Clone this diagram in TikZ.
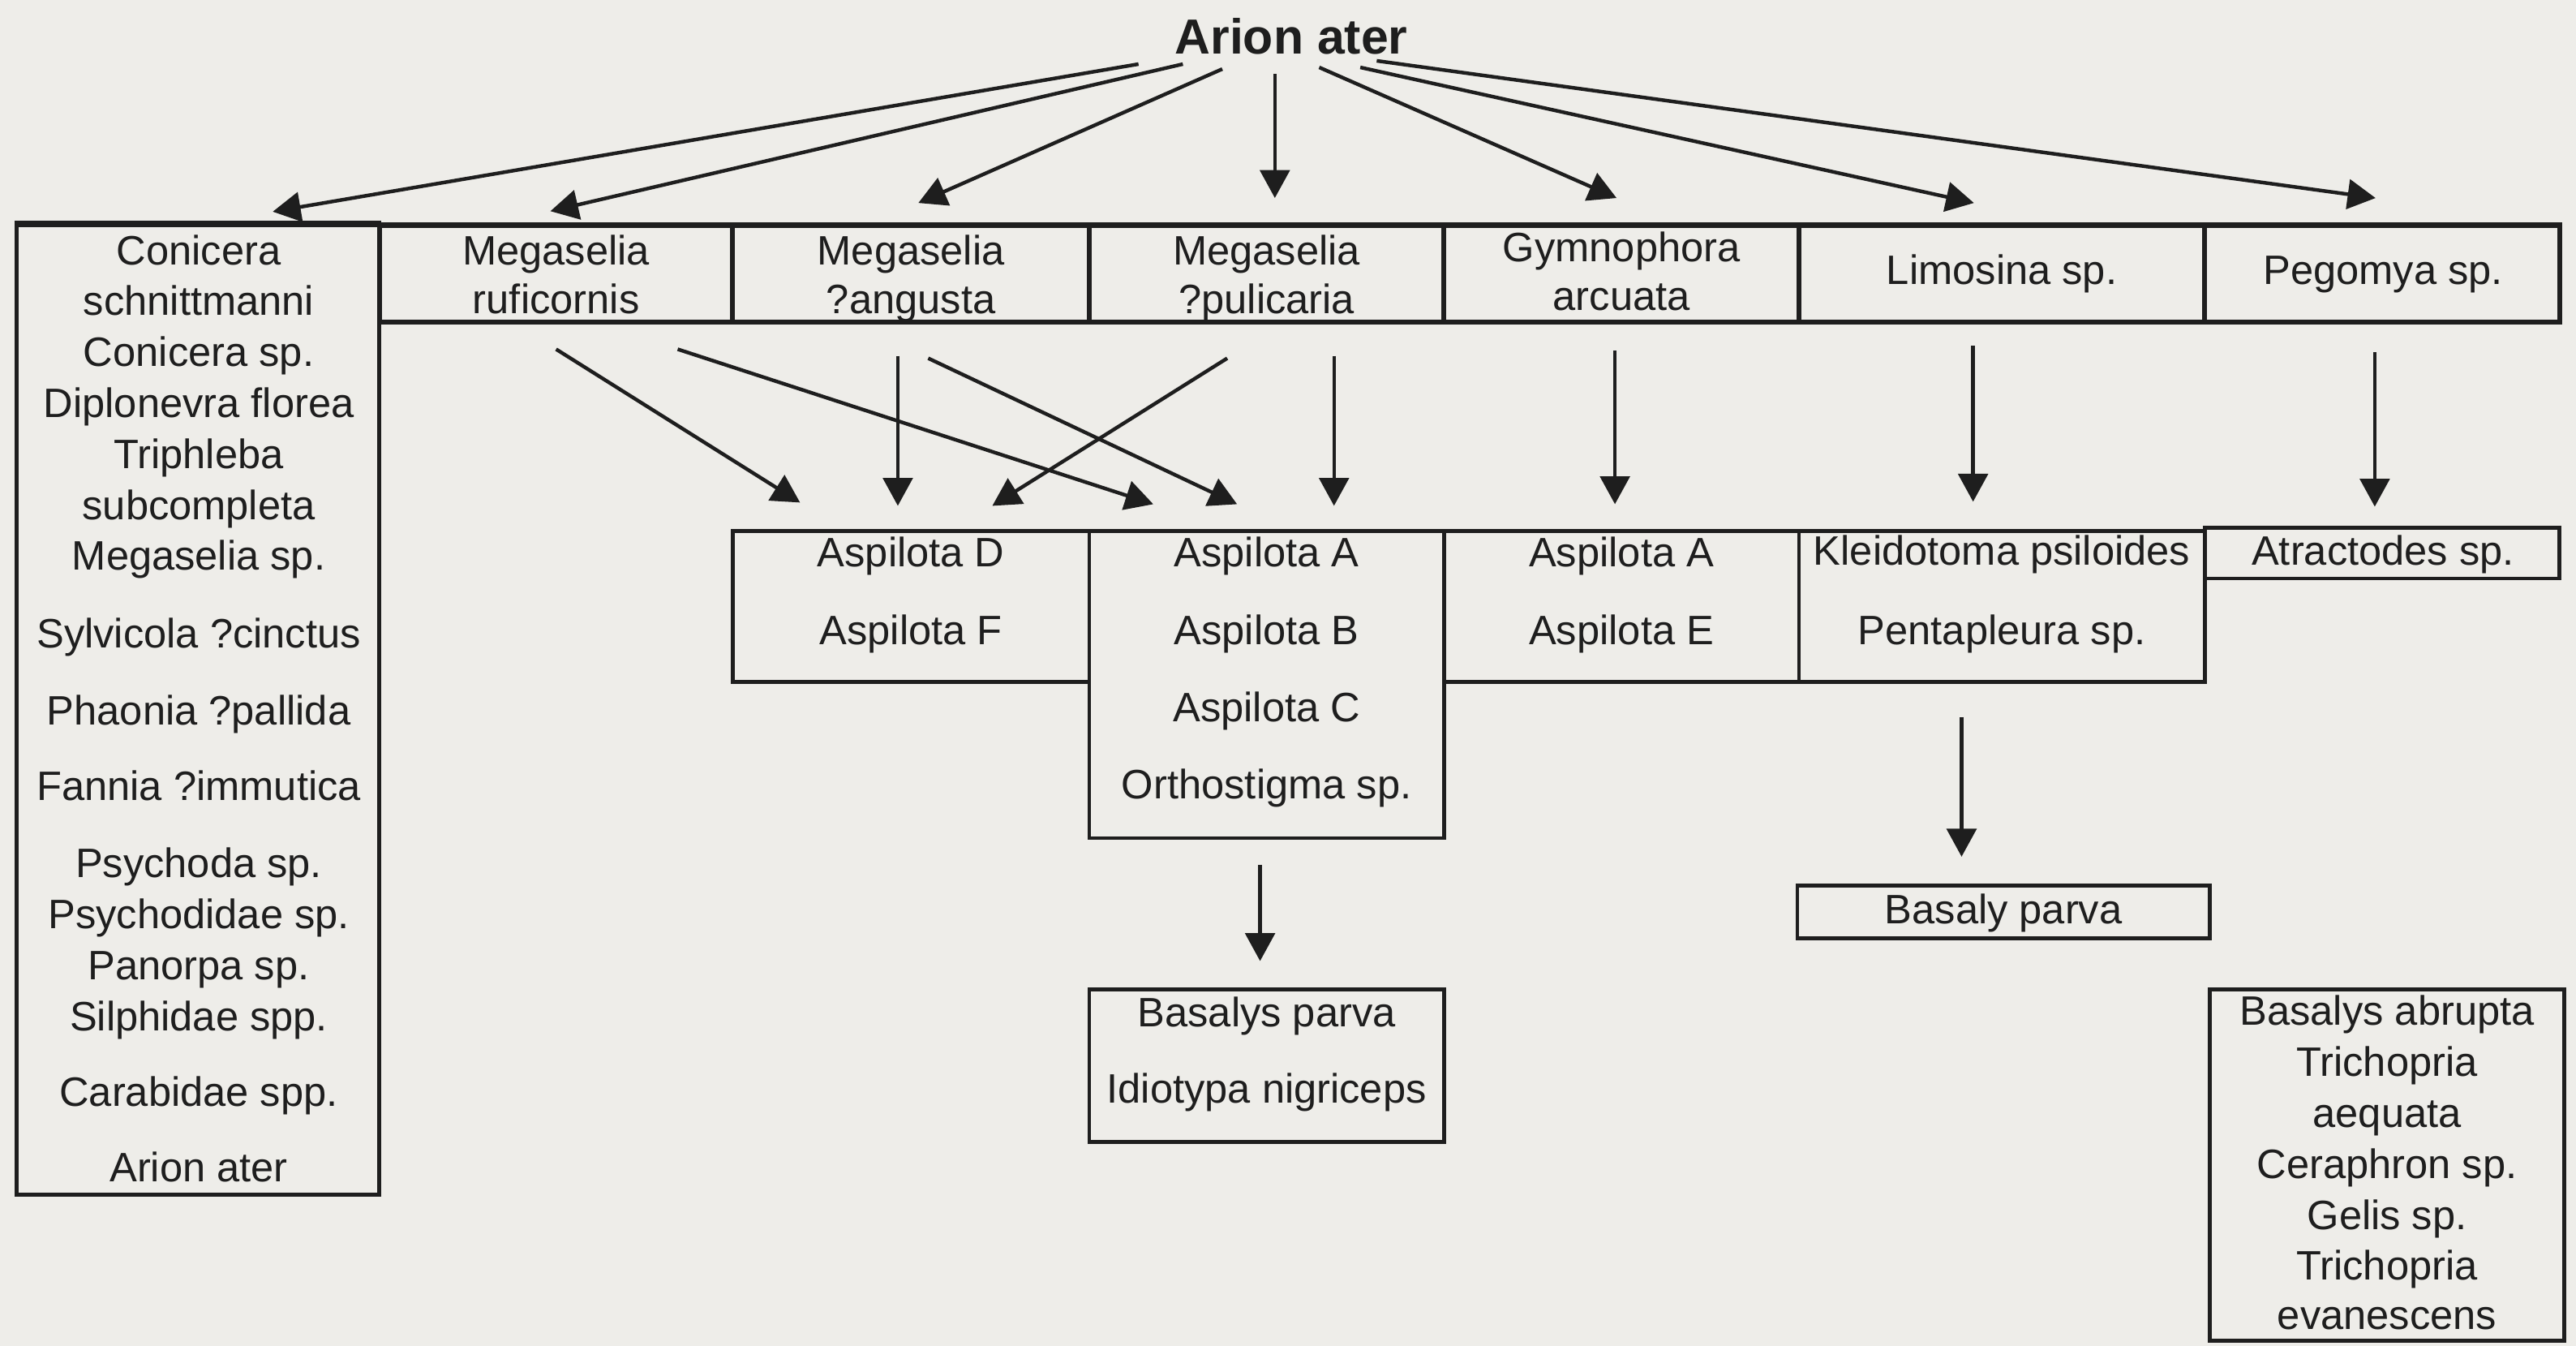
\documentclass[tikz,border=0pt]{standalone}
\usepackage{fontspec}
\setmainfont{Liberation Sans}
\usetikzlibrary{arrows.meta,fit}
\definecolor{paper}{RGB}{238,237,233}
\definecolor{ink}{RGB}{30,30,30}
\begin{document}
\begin{tikzpicture}[x=0.5pt,y=-0.5pt,
  box/.style={draw=ink,line width=1.2pt,inner sep=0pt},
  hostbox/.style={draw=ink,line width=1.5pt,inner sep=0pt},
  txt/.style={inner sep=0pt,anchor=base,text=ink,font=\fontsize{12.5}{14}\selectfont},
  ttl/.style={inner sep=0pt,anchor=base,text=ink,font=\fontsize{15}{17}\selectfont\bfseries},
  arr/.style={draw=ink,line width=1.1pt,-{Triangle[length=8.5pt,width=9pt]}}]
\fill[paper] (0,0) rectangle (1568,819);
\useasboundingbox (0,0) rectangle (1568,819);

% title
\node[ttl] (title) at (786,33) {Arion ater};

% host row
\node[box,fit={(10,137) (231,727)}] (hL) {};
\node[hostbox,fit={(231,137) (446,196)}] (h1) {};
\node[hostbox,fit={(446,137) (663,196)}] (h2) {};
\node[hostbox,fit={(663,137) (879,196)}] (h3) {};
\node[hostbox,fit={(879,137) (1095,196)}] (h4) {};
\node[hostbox,fit={(1095,137) (1342,196)}] (h5) {};
\node[hostbox,fit={(1342,137) (1558,196)}] (h6) {};
\draw[ink,line width=1.5pt] (hL.north west) -- (hL.north east);

% parasitoid boxes
\node[box,fit={(446,323) (663,415)}] (pD) {};
\node[box,fit={(663,323) (879,510)}] (pA) {};
\node[box,fit={(879,323) (1095,415)}] (pE) {};
\node[box,fit={(1095,323) (1342,415)}] (pK) {};
\node[box,fit={(1342,321) (1558,352)}] (pT) {};
\node[box,fit={(663,602) (879,695)}] (bI) {};
\node[box,fit={(1094,539) (1345,571)}] (bB) {};
\node[box,fit={(1345,602) (1561,816)}] (bR) {};

% left box text
\foreach \y/\t [count=\i] in {161/Conicera, 192/schnittmanni, 223/Conicera sp., 254/Diplonevra florea,
  285/Triphleba, 316/subcompleta, 347/Megaselia sp., 394/Sylvicola ?cinctus, 441/Phaonia ?pallida,
  487/Fannia ?immutica, 534/Psychoda sp., 565/Psychodidae sp., 596/Panorpa sp., 627/Silphidae spp.,
  673/Carabidae spp., 719/Arion ater}
  \node[txt] (L\i) at (121,\y) {\t};

% host texts
\node[txt] (h1a) at (338.5,161) {Megaselia};
\node[txt] (h1b) at (338.5,191) {ruficornis};
\node[txt] (h2a) at (554.5,161) {Megaselia};
\node[txt] (h2b) at (554.5,191) {?angusta};
\node[txt] (h3a) at (771,161) {Megaselia};
\node[txt] (h3b) at (771,191) {?pulicaria};
\node[txt] (h4a) at (987,159) {Gymnophora};
\node[txt] (h4b) at (987,189) {arcuata};
\node[txt] (h5a) at (1218.5,173) {Limosina sp.};
\node[txt] (h6a) at (1450.5,173) {Pegomya sp.};

% parasitoid texts
\node[txt] (pDa) at (554.5,345) {Aspilota D};
\node[txt] (pDb) at (554.5,392) {Aspilota F};
\node[txt] (pAa) at (771,345) {Aspilota A};
\node[txt] (pAb) at (771,392) {Aspilota B};
\node[txt] (pAc) at (771,439) {Aspilota C};
\node[txt] (pAd) at (771,486) {Orthostigma sp.};
\node[txt] (pEa) at (987,345) {Aspilota A};
\node[txt] (pEb) at (987,392) {Aspilota E};
\node[txt] (pKa) at (1218.5,344) {Kleidotoma psiloides};
\node[txt] (pKb) at (1218.5,392) {Pentapleura sp.};
\node[txt] (pTa) at (1450.5,344) {Atractodes sp.};
\node[txt] (bBa) at (1219.5,562) {Basaly parva};
\node[txt] (bIa) at (771,625) {Basalys parva};
\node[txt] (bIb) at (771,671) {Idiotypa nigriceps};
\foreach \y/\t [count=\i] in {624/Basalys abrupta, 655/Trichopria, 686/aequata, 717/Ceraphron sp.,
  748/Gelis sp., 779/Trichopria, 809/evanescens}
  \node[txt] (R\i) at (1453,\y) {\t};

% arrows from Arion ater
\draw[arr] ([shift={(-93,6)}]title.base) -- ([shift={(45.5,-7)}]hL.north);
\draw[arr] ([shift={(-66,6)}]title.base) -- ([shift={(-3.5,-7)}]h1.north);
\draw[arr] ([shift={(-42,9)}]title.base) -- ([shift={(4.5,-12)}]h2.north);
\draw[arr] ([shift={(-10,12)}]title.base) -- ([shift={(-10,-15)}]title.base |- h3.north);
\draw[arr] ([shift={(17,8)}]title.base) -- ([shift={(-3,-15)}]h4.north);
\draw[arr] ([shift={(42,8)}]title.base) -- ([shift={(-17,-12)}]h5.north);
\draw[arr] ([shift={(52,4)}]title.base) -- ([shift={(-4,-15)}]h6.north);

% arrows hosts -> parasitoids
\draw[arr] ([shift={(0,15)}]h1.south) -- ([shift={(-67.5,-16)}]pD.north);
\draw[arr] ([shift={(74,15)}]h1.south) -- ([shift={(-69,-15)}]pA.north);
\draw[arr] ([shift={(-8,19)}]h2.south) -- ([shift={(-8,-14)}]pD.north);
\draw[arr] ([shift={(10.5,20.5)}]h2.south) -- ([shift={(-18,-15)}]pA.north);
\draw[arr] ([shift={(-24,20.5)}]h3.south) -- ([shift={(49.5,-14)}]pD.north);
\draw[arr] ([shift={(41,19)}]h3.south) -- ([shift={(41,-14)}]pA.north);
\draw[arr] ([shift={(-4,16)}]h4.south) -- ([shift={(-4,-15)}]pE.north);
\draw[arr] ([shift={(-17.5,13)}]h5.south) -- ([shift={(-17.5,-16.5)}]pK.north);
\draw[arr] ([shift={(-4.5,17)}]h6.south) -- ([shift={(-4.5,-11.5)}]pT.north);

% arrows to hyperparasitoids
\draw[arr] ([shift={(-4,15)}]pA.south) -- ([shift={(-4,-16)}]bI.north);
\draw[arr] ([shift={(-24.5,20)}]pK.south) -- ([shift={(-25.5,-16.5)}]bB.north);
\end{tikzpicture}
\end{document}
